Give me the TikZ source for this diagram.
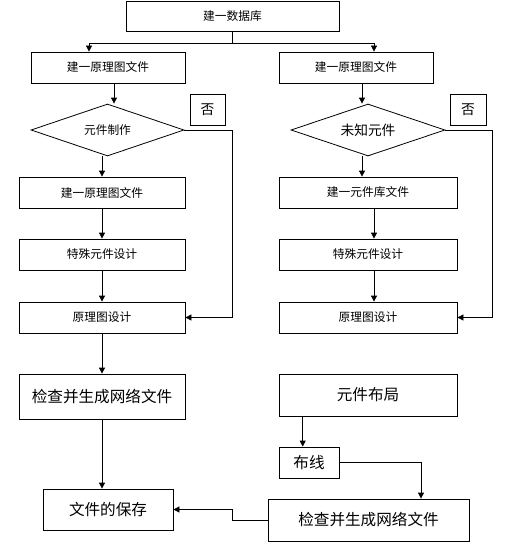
\documentclass[tikz,border=0pt]{standalone}
\usepackage{fontspec}
\newfontfamily\cjk{Noto Sans CJK SC}
\usetikzlibrary{shapes.geometric,arrows.meta,calc}
\tikzset{
  bx/.style 2 args={draw, line width=0.6pt, inner sep=0pt, minimum width=#1*0.75pt, minimum height=#2*0.75pt},
  dm/.style 2 args={draw, line width=0.6pt, diamond, aspect=3, inner sep=0pt, minimum width=#1*0.75pt, minimum height=#2*0.75pt},
  sm/.style={font=\cjk\fontsize{8.8pt}{10pt}\selectfont},
  lg/.style={font=\cjk\fontsize{11.7pt}{13pt}\selectfont},
  md/.style={font=\cjk\fontsize{10.3pt}{12pt}\selectfont},
  arr/.style={line width=0.6pt, -{Triangle[length=4.5pt,width=4.5pt]}},
  ln/.style={line width=0.6pt}
}
\begin{document}
\begin{tikzpicture}[x=0.75pt,y=-0.75pt]
\useasboundingbox (0,0) rectangle (530,542);
% left column
\node[bx={213}{30},sm] (top) at (232.5,16) {建一数据库};
\node[bx={154}{31},sm] (L1) at (108,67.5) {建一原理图文件};
\node[dm={153}{52},sm] (LD) at (107.5,130) {元件制作};
\node[bx={35}{31},md] (NL) at (207.5,109.5) {否};
\node[bx={166}{31},sm] (L2) at (102,192.5) {建一原理图文件};
\node[bx={166}{31},sm] (L3) at (102,254.5) {特殊元件设计};
\node[bx={166}{31},sm] (L4) at (102,317.5) {原理图设计};
\node[bx={166}{45},lg] (L5) at (102,396.5) {检查并生成网络文件};
\node[bx={130}{41},lg] (L6) at (108,509.5) {文件的保存};
% right column
\node[bx={154}{31},sm] (R1) at (356,67.5) {建一原理图文件};
\node[dm={154}{52},md] (RD) at (368,130) {未知元件};
\node[bx={36}{31},md] (NR) at (468,109.5) {否};
\node[bx={178}{31},sm] (R2) at (368,192.5) {建一元件库文件};
\node[bx={178}{31},sm] (R3) at (368,254.5) {特殊元件设计};
\node[bx={178}{31},sm] (R4) at (368,317.5) {原理图设计};
\node[bx={178}{42},lg] (R5) at (368,395) {元件布局};
\node[bx={60}{31},lg] (BX) at (309,462.5) {布线};
\node[bx={201}{42},lg] (R6) at (368.5,520) {检查并生成网络文件};
% helper coordinates
\coordinate (jL) at (89,43);
\coordinate (jR) at (374,43);
\coordinate (nL) at (232,130);
\coordinate (nR) at (492,130);
\coordinate (a1) at (114,0);
\coordinate (a2) at (362,0);
\coordinate (a3) at (374,0);
\coordinate (a4) at (302.7,0);
\coordinate (a5) at (421,0);
% connectors
\draw[ln] (top.south) -- (top.south |- jL);
\draw[arr] (top.south |- jL) -- (jL) -- (jL |- L1.north);
\draw[arr] (top.south |- jR) -- (jR) -- (jR |- R1.north);
\draw[arr] (L1.south -| a1) -- (a1 |- LD.north);
\draw[arr] (LD.south -| L2.north) -- (L2.north);
\draw[arr] (L2) -- (L3);
\draw[arr] (L3) -- (L4);
\draw[arr] (L4) -- (L5);
\draw[arr] (L5.south) -- (L5.south |- L6.north);
\draw[arr] (LD.east) -- (nL) |- (L4.east);
\draw[arr] (R1.south -| a2) -- (a2 |- RD.north);
\draw[arr] (RD.south -| a2) -- (a2 |- R2.north);
\draw[arr] (R2.south -| a3) -- (a3 |- R3.north);
\draw[arr] (R3.south -| a3) -- (a3 |- R4.north);
\draw[arr] (RD.east) -- (nR) |- (R4.east);
\draw[arr] (R5.south -| a4) -- (a4 |- BX.north);
\draw[arr] (BX.east) -| (a5 |- R6.north);
\draw[arr] (R6.west) -- (R6.west -| nL) |- (L6.east);
\end{tikzpicture}
\end{document}
